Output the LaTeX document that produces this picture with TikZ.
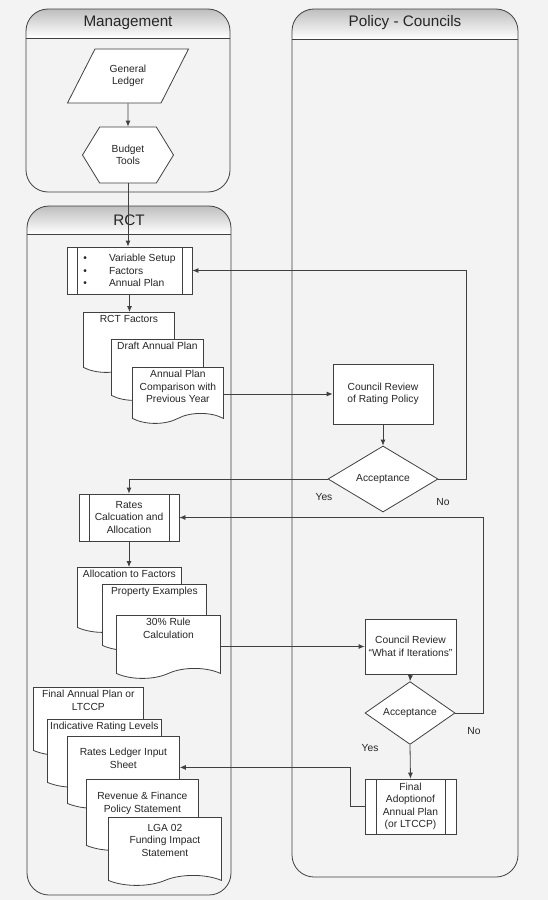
\documentclass[tikz,border=0pt]{standalone}
\usepackage{fontspec}
\setmainfont{Liberation Sans}
\usetikzlibrary{arrows.meta,shapes.geometric,shapes.symbols}
\definecolor{bggray}{RGB}{243,243,243}
\definecolor{linegray}{RGB}{64,64,64}
\definecolor{hdrgray}{RGB}{190,190,190}
\begin{document}
\begin{tikzpicture}[x=1bp,y=-1bp,
  font=\fontsize{10.3}{12.4}\selectfont, text=black!85,
  line/.style={draw=linegray, line width=0.8bp},
  arrow/.style={line, -{Latex[length=6bp,width=5bp]}},
  box/.style={line, fill=white, align=center, inner sep=2bp},
  process/.style={rectangle, box, path picture={
      \draw[line] ([xshift=#1]path picture bounding box.north west) -- ([xshift=#1]path picture bounding box.south west);
      \draw[line] ([xshift=-#1]path picture bounding box.north east) -- ([xshift=-#1]path picture bounding box.south east);}},
  process/.default=10bp,
  doc/.style n args={3}{tape, tape bend top=none, tape bend bottom=in and out, tape bend height=10bp,
      line, fill=white, inner xsep=2bp, inner ysep=3bp, anchor=north west, minimum width=#1,
      execute at begin node={\begin{minipage}[c][#2][t]{\dimexpr#1-4bp\relax}\vspace*{#3}\centering},
      execute at end node={\end{minipage}}},
  lanetitle/.style={font=\fontsize{15.3}{18}\selectfont}]
  \useasboundingbox (0,0) rectangle (548,900);
  \fill[bggray] (0,0) rectangle (548,900);

  % swim lanes
  \foreach \xa/\ya/\xb/\yb/\yh in {26/9/230/192/38, 27/206/231/895/234, 292/9/518/877/39}{
    \begin{scope}
      \clip[rounded corners=22bp] (\xa,\ya) rectangle (\xb,\yb);
      \shade[top color=hdrgray, bottom color=white] (\xa,\ya) rectangle (\xb,\yh);
    \end{scope}
    \draw[line, rounded corners=22bp] (\xa,\ya) rectangle (\xb,\yb);
    \draw[line] (\xa,\yh) -- (\xb,\yh);
  }
  \node (mgmt) at (128,23) [lanetitle] {Management};
  \node (rct) at (129,220) [lanetitle] {RCT};
  \node (policy) at (405,23) [lanetitle] {Policy - Councils};

  % management
  \node (ledger) at (128,76) [trapezium, trapezium left angle=63, trapezium right angle=117, box,
      trapezium stretches body, inner ysep=16bp, minimum width=121bp, minimum height=54bp] {General\\Ledger};
  \node (budget) at (128,155) [signal, signal to=west and east, signal pointer angle=117, box,
      minimum width=91bp, minimum height=56bp] {Budget\\Tools};

  % rct, first pass
  \node (setup) at (129.5,270.5) [process, minimum width=125bp, minimum height=47bp, align=left]
      {\textbullet\hspace{22bp}Variable Setup\\\textbullet\hspace{22bp}Factors\\\textbullet\hspace{22bp}Annual Plan};
  \node (factors) at (83,312) [doc={91bp}{44bp}{0bp}] {RCT Factors};
  \node (draft) at (111,339) [doc={92bp}{45bp}{0bp}] {Draft Annual Plan};
  \node (cmp) at (132,367) [doc={91bp}{40bp}{0bp}] {Annual Plan\\Comparison with\\Previous Year};

  % rct, second pass
  \node (rates) at (129,517.5) [process, minimum width=100bp, minimum height=47bp] {Rates\\Calcuation and\\Allocation};
  \node (alloc) at (77,567) [doc={104bp}{49bp}{0bp}] {Allocation to Factors};
  \node (prop) at (102,584) [doc={104bp}{50bp}{0bp}] {Property Examples};
  \node (rule) at (116,615) [doc={104bp}{47bp}{0bp}] {30\% Rule\\Calculation};

  % rct, outputs
  \node (plan) at (33,687) [doc={110bp}{52bp}{0bp}] {Final Annual Plan or\\LTCCP};
  \node (indic) at (47,719) [doc={114bp}{52bp}{0bp}] {Indicative Rating Levels};
  \node (ledgerin) at (67,736) [doc={112bp}{56bp}{9bp}] {Rates Ledger Input\\Sheet};
  \node (revenue) at (86,779) [doc={112bp}{55bp}{10bp}] {Revenue \& Finance\\Policy Statement};
  \node (lga) at (108,817) [doc={113bp}{52bp}{4bp}] {LGA 02\\Funding Impact\\Statement};

  % councils
  \node (review1) at (383,394) [rectangle, box, minimum width=100bp, minimum height=60bp] {Council Review\\of Rating Policy};
  \node (accept1) at (383,479) [diamond, box, inner sep=0pt, minimum width=110bp, minimum height=66bp] {Acceptance};
  \node (yes1) at (324,497) {Yes};
  \node (no1) at (443,502) {No};
  \node (review2) at (410.5,646.5) [rectangle, box, minimum width=91bp, minimum height=55bp] {Council Review\\“What if Iterations”};
  \node (accept2) at (410,713) [diamond, box, inner sep=0pt, minimum width=90bp, minimum height=54bp] {Acceptance};
  \node (no2) at (474,731) {No};
  \node (yes2) at (370,748) {Yes};
  \node (final) at (410.5,806.5) [process=11bp, minimum width=91bp, minimum height=55bp] {Final\\Adoptionof\\Annual Plan\\(or LTCCP)};

  % connectors
  \draw[arrow] (ledger.south) -- (budget.north);
  \draw[arrow] (budget.south) -- (budget.south |- setup.north);
  \draw[arrow] (setup.south) -- (setup.south |- factors.north);
  \draw[arrow] (cmp.east |- review1.west) -- (review1.west);
  \draw[arrow] (review1.south) -- (accept1.north);
  \draw[arrow] (accept1.west) -| (rates.north);
  \draw[arrow] (accept1.east) -- ++(28,0) |- (setup.east);
  \draw[arrow] (rates.south) -- (rates.south |- alloc.north);
  \draw[arrow] (rule.east |- review2.west) -- (review2.west);
  \draw[arrow] (review2.south) -- (accept2.north);
  \draw[arrow] (accept2.east) -- ++(28,0) |- (rates.east);
  \draw[arrow] (accept2.south) -- (final.north);
  \draw[arrow] (final.west) -- ++(-14,0) |- (ledgerin.east);
\end{tikzpicture}
\end{document}
